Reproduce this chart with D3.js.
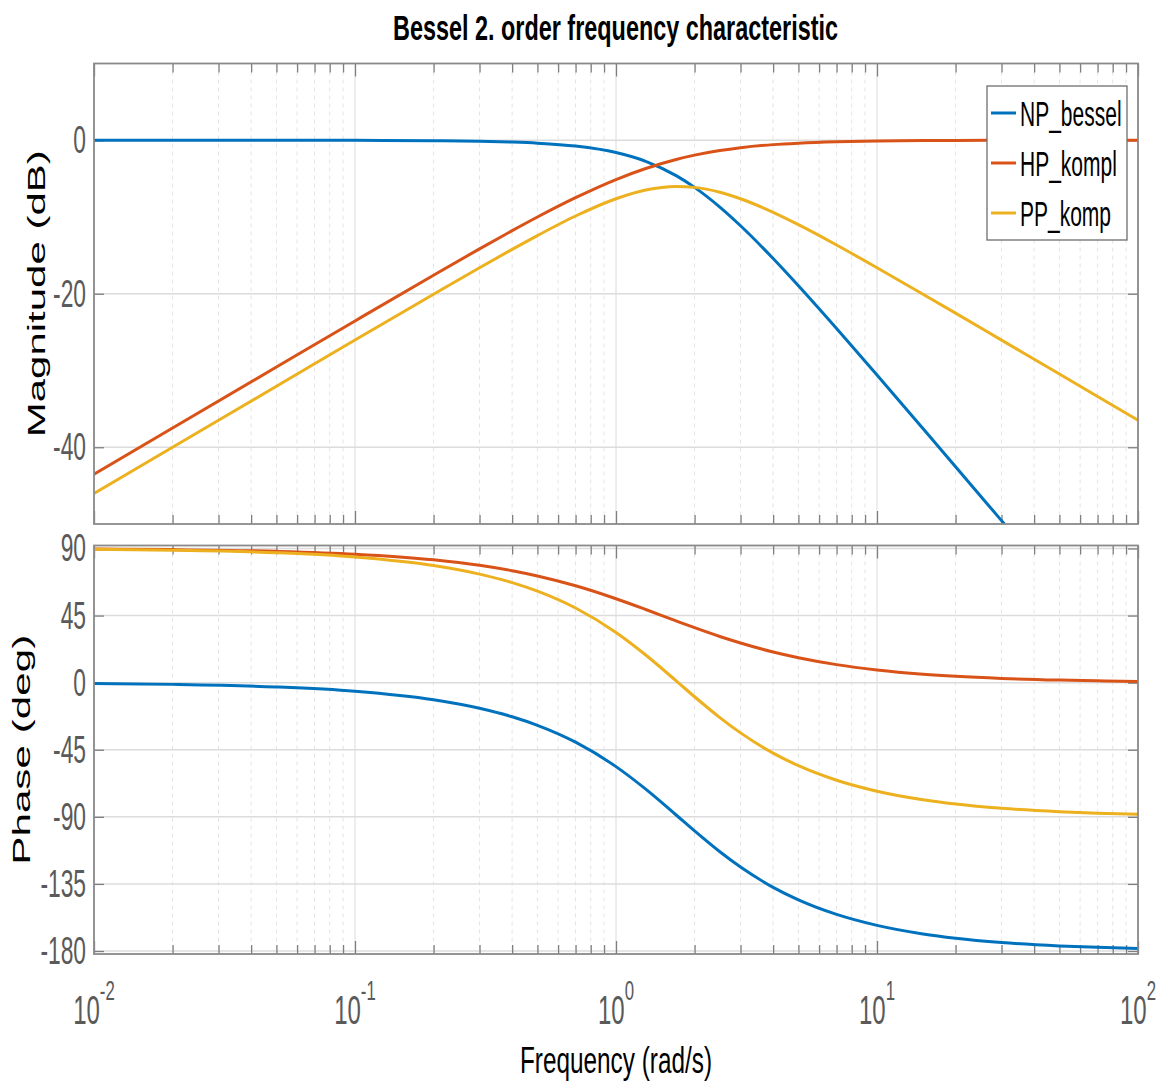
<!DOCTYPE html>
<html>
<head>
<meta charset="utf-8">
<script src="https://cdn.jsdelivr.net/npm/d3@7"></script>
<style>
  body { margin: 0; background: #fff; }
  text { font-family: "Liberation Sans", Arial, sans-serif; }
</style>
</head>
<body>
<svg id="chart"></svg>
<script>
// values
var freq = [0.01, 0.02, 0.05, 0.1, 0.2, 0.3, 0.4, 0.5, 0.7, 1, 1.3, 1.7, 2, 2.5, 3, 4, 5, 7, 10, 15, 20, 30, 50, 70, 100];

var npMag = [0, 0, 0, -0.01, -0.06, -0.13, -0.24, -0.38, -0.76, -1.6, -2.74, -4.61, -6.14, -8.71, -11.14, -15.41, -18.96, -24.53, -30.59, -37.56, -42.53, -49.56, -58.42, -64.26, -70.46];
var hpMag = [-43.52, -37.5, -29.55, -23.54, -17.58, -14.15, -11.78, -10.0, -7.48, -5.12, -3.68, -2.5, -1.94, -1.34, -0.97, -0.57, -0.38, -0.2, -0.1, -0.04, -0.02, -0.01, 0, 0, 0];
var ppMag = [-46.02, -40.0, -32.05, -26.03, -20.06, -16.61, -14.22, -12.42, -9.87, -7.62, -6.48, -6.02, -6.14, -6.77, -7.62, -9.39, -11.0, -13.65, -16.61, -20.06, -22.53, -26.04, -30.46, -33.38, -36.48];

var npPhase = [-0.57, -1.15, -2.86, -5.73, -11.46, -17.19, -22.9, -28.61, -39.92, -56.31, -71.43, -88.76, -99.46, -113.43, -123.69, -137.29, -145.71, -155.46, -162.81, -168.54, -171.4, -174.27, -176.56, -177.54, -178.28];
var hpPhase = [89.62, 89.24, 88.09, 86.19, 82.41, 78.69, 75.07, 71.57, 64.98, 56.31, 49.09, 41.42, 36.87, 30.96, 26.57, 20.56, 16.7, 12.09, 8.53, 5.71, 4.29, 2.86, 1.72, 1.23, 0.86];
var ppPhase = [89.43, 88.85, 87.14, 84.27, 78.54, 72.81, 67.1, 61.39, 50.08, 33.69, 18.57, 1.24, -9.46, -23.43, -33.69, -47.29, -55.71, -65.46, -72.81, -78.54, -81.4, -84.27, -86.56, -87.54, -88.28];

var seriesNames = ["NP_bessel", "HP_kompl", "PP_komp"];
var magTicks = [-40, -20, 0];
var phaseTicks = [-180, -135, -90, -45, 0, 45, 90];
var decades = [-2, -1, 0, 1, 2];

// layout
var svgWidth = 1166, svgHeight = 1083;
var plotLeft = 94, plotRight = 1138;
var magTop = 63.5, magBottom = 524;
var phTop = 545.5, phBottom = 954;
var sx = 0.6; // horizontal squeeze of all the text
var colors = ["#0072BD", "#D95319", "#EDB120"];

var svg = d3.select("#chart")
  .attr("width", svgWidth)
  .attr("height", svgHeight);

var xScale = d3.scaleLog().domain([0.01, 100]).range([plotLeft, plotRight]);
var magScale = d3.scaleLinear().domain([-50, 10]).range([magBottom, magTop]);
var phScale = d3.scaleLinear().domain([-182, 92]).range([phBottom, phTop]);

var majorX = decades.map(function(e) { return Math.pow(10, e); });
var minorX = [];
decades.slice(0, -1).forEach(function(e) {
  for (var k = 2; k <= 9; k++) minorX.push(k * Math.pow(10, e));
});

function drawPanel(id, top, bottom, yScale, yTicks, series) {
  var g = svg.append("g");

  g.append("clipPath").attr("id", "clip-" + id)
    .append("rect")
    .attr("x", plotLeft).attr("y", top)
    .attr("width", plotRight - plotLeft).attr("height", bottom - top);

  // grid
  g.selectAll(".minor").data(minorX).enter().append("line")
    .attr("x1", d => xScale(d)).attr("x2", d => xScale(d))
    .attr("y1", top).attr("y2", bottom)
    .attr("stroke", "#e4e4e4").attr("stroke-width", 1)
    .attr("stroke-dasharray", "4,4");
  g.selectAll(".major").data(majorX).enter().append("line")
    .attr("x1", d => xScale(d)).attr("x2", d => xScale(d))
    .attr("y1", top).attr("y2", bottom)
    .attr("stroke", "#dcdcdc").attr("stroke-width", 1);
  g.selectAll(".hgrid").data(yTicks).enter().append("line")
    .attr("x1", plotLeft).attr("x2", plotRight)
    .attr("y1", d => yScale(d)).attr("y2", d => yScale(d))
    .attr("stroke", "#dcdcdc").attr("stroke-width", 1.5);

  // inward ticks on all four sides
  var axes = [
    [d3.axisBottom(xScale).tickValues(majorX).tickSize(-13), "translate(0," + bottom + ")"],
    [d3.axisBottom(xScale).tickValues(minorX).tickSize(-9), "translate(0," + bottom + ")"],
    [d3.axisTop(xScale).tickValues(majorX).tickSize(-13), "translate(0," + top + ")"],
    [d3.axisTop(xScale).tickValues(minorX).tickSize(-9), "translate(0," + top + ")"],
    [d3.axisLeft(yScale).tickValues(yTicks).tickSize(-10), "translate(" + plotLeft + ",0)"],
    [d3.axisRight(yScale).tickValues(yTicks).tickSize(-10), "translate(" + plotRight + ",0)"]
  ];
  axes.forEach(function(a) {
    var ax = g.append("g").attr("transform", a[1]).call(a[0].tickFormat(""));
    ax.select(".domain").remove();
    ax.selectAll("line").attr("stroke", "#7f7f7f").attr("stroke-width", 1.3);
  });

  // curves
  var line = d3.line()
    .x(d => xScale(d[0]))
    .y(d => yScale(d[1]))
    .curve(d3.curveMonotoneX);
  series.forEach(function(vals, i) {
    g.append("path")
      .datum(freq.map(function(f, j) { return [f, vals[j]]; }))
      .attr("clip-path", "url(#clip-" + id + ")")
      .attr("fill", "none")
      .attr("stroke", colors[i])
      .attr("stroke-width", 3)
      .attr("d", line);
  });

  // box
  g.append("rect")
    .attr("x", plotLeft).attr("y", top)
    .attr("width", plotRight - plotLeft).attr("height", bottom - top)
    .attr("fill", "none").attr("stroke", "#8a8a8a").attr("stroke-width", 1.8);

  // y tick labels
  g.selectAll(".ylab").data(yTicks).enter().append("text")
    .attr("transform", d => "translate(" + (plotLeft - 8) + "," + (yScale(d) + 13) + ") scale(" + sx + ",1)")
    .attr("text-anchor", "end")
    .attr("font-size", 38)
    .attr("fill", "#5a5a5a")
    .text(d => d);
}

drawPanel("mag", magTop, magBottom, magScale, magTicks, [npMag, hpMag, ppMag]);
drawPanel("ph", phTop, phBottom, phScale, phaseTicks, [npPhase, hpPhase, ppPhase]);

// x tick labels 10^n
var xl = svg.selectAll(".xlab").data(decades).enter().append("text")
  .attr("transform", d => "translate(" + xScale(Math.pow(10, d)) + ",1024) scale(" + sx + ",1)")
  .attr("text-anchor", "middle")
  .attr("fill", "#5a5a5a");
xl.append("tspan").attr("font-size", 40).text("10");
xl.append("tspan").attr("font-size", 28).attr("dy", -24).text(d => d);

// title
svg.append("text")
  .attr("x", 615.5).attr("y", 40)
  .attr("text-anchor", "middle")
  .attr("font-size", 35).attr("font-weight", "bold")
  .attr("textLength", 445).attr("lengthAdjust", "spacingAndGlyphs")
  .attr("fill", "#000")
  .text("Bessel 2. order frequency characteristic");

// x label
svg.append("text")
  .attr("x", 616).attr("y", 1073)
  .attr("text-anchor", "middle")
  .attr("font-size", 36)
  .attr("textLength", 192).attr("lengthAdjust", "spacingAndGlyphs")
  .attr("fill", "#000")
  .text("Frequency  (rad/s)");

// y labels
svg.append("text")
  .attr("transform", "translate(45," + ((magTop + magBottom) / 2) + ") scale(" + sx + ",1) rotate(-90)")
  .attr("text-anchor", "middle")
  .attr("font-size", 40)
  .attr("textLength", 287).attr("lengthAdjust", "spacingAndGlyphs")
  .attr("fill", "#000")
  .text("Magnitude  (dB)");
svg.append("text")
  .attr("transform", "translate(30," + ((phTop + phBottom) / 2) + ") scale(" + sx + ",1) rotate(-90)")
  .attr("text-anchor", "middle")
  .attr("font-size", 40)
  .attr("textLength", 230).attr("lengthAdjust", "spacingAndGlyphs")
  .attr("fill", "#000")
  .text("Phase  (deg)");

// legend
var legend = svg.append("g");
legend.append("rect")
  .attr("x", 987).attr("y", 86).attr("width", 140).attr("height", 154)
  .attr("fill", "#fff").attr("stroke", "#6e6e6e").attr("stroke-width", 1.3);
seriesNames.forEach(function(name, i) {
  var y = 113 + i * 50;
  legend.append("line")
    .attr("x1", 991).attr("x2", 1016).attr("y1", y).attr("y2", y)
    .attr("stroke", colors[i]).attr("stroke-width", 3);
  legend.append("text")
    .attr("transform", "translate(1020," + (y + 13) + ") scale(" + sx + ",1)")
    .attr("font-size", 35)
    .attr("fill", "#000")
    .text(name);
});
</script>
</body>
</html>
